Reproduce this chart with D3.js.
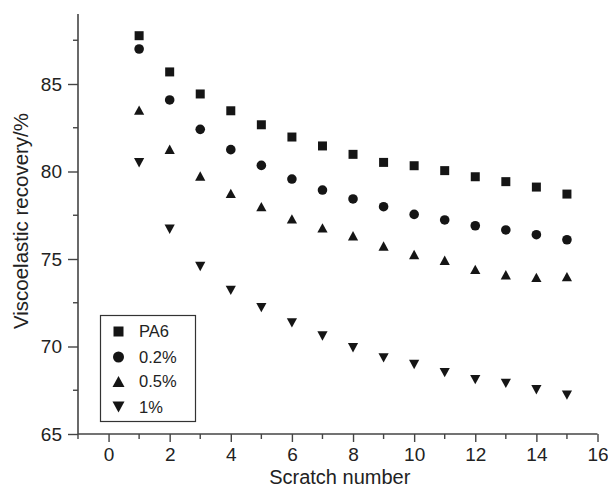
<!DOCTYPE html>
<html>
<head>
<meta charset="utf-8">
<script src="https://cdn.jsdelivr.net/npm/d3@7"></script>
<style>
  html, body { margin: 0; padding: 0; background: #fff; }
  svg { display: block; }
  text { font-family: "Liberation Sans", Arial, Helvetica, sans-serif; fill: #222; }
</style>
</head>
<body>
<svg id="chart" width="608" height="489"></svg>
<script>
// ---- data ----
const scratch = [1, 2, 3, 4, 5, 6, 7, 8, 9, 10, 11, 12, 13, 14, 15];
const seriesNames = ["PA6", "0.2%", "0.5%", "1%"];
const pa6   = [87.76, 85.69, 84.43, 83.47, 82.67, 81.97, 81.46, 80.98, 80.52, 80.33, 80.05, 79.70, 79.42, 79.11, 78.71];
const p02   = [87.00, 84.09, 82.41, 81.25, 80.35, 79.57, 78.94, 78.43, 77.99, 77.55, 77.23, 76.90, 76.66, 76.39, 76.10];
const p05   = [83.51, 81.27, 79.74, 78.75, 77.99, 77.29, 76.78, 76.33, 75.74, 75.26, 74.93, 74.41, 74.10, 73.95, 73.99];
const p1    = [80.50, 76.70, 74.57, 73.21, 72.22, 71.35, 70.60, 69.93, 69.35, 68.97, 68.51, 68.11, 67.89, 67.53, 67.22];
const seriesValues = [pa6, p02, p05, p1];
const symbolNames = ["square", "circle", "triangleUp", "triangleDown"];
const xMajorTicks = [0, 2, 4, 6, 8, 10, 12, 14, 16];
const xMinorTicks = [-1, 1, 3, 5, 7, 9, 11, 13, 15];
const yMajorTicks = [65, 70, 75, 80, 85];
const yMinorTicks = [67.5, 72.5, 77.5, 82.5, 87.5];
const xTitle = "Scratch number";
const yTitle = "Viscoelastic recovery/%";

// ---- layout ----
const svg = d3.select("#chart");
const x = d3.scaleLinear().domain([-1, 16]).range([78, 597.5]);
const y = d3.scaleLinear().domain([65, 89]).range([434, 14]);
const axisColor = "#444";
const markColor = "#151515";

// custom symbols (size = half-width)
const symbolTypes = {
  square: { draw(ctx, s) { ctx.rect(-s, -s, 2 * s, 2 * s); } },
  circle: { draw(ctx, s) { ctx.moveTo(s, 0); ctx.arc(0, 0, s, 0, 2 * Math.PI); } },
  triangleUp: { draw(ctx, s) { const h = s * 0.92; ctx.moveTo(0, -h); ctx.lineTo(s, h); ctx.lineTo(-s, h); ctx.closePath(); } },
  triangleDown: { draw(ctx, s) { const h = s * 0.92; ctx.moveTo(0, h); ctx.lineTo(s, -h); ctx.lineTo(-s, -h); ctx.closePath(); } }
};
const plotSizes = { square: 4.5, circle: 4.8, triangleUp: 5.1, triangleDown: 5.1 };
const legendSizes = { square: 5, circle: 5.5, triangleUp: 6, triangleDown: 6 };

// ---- axes ----
const gx = svg.append("g").attr("transform", `translate(0,${y(65)})`);
gx.call(d3.axisBottom(x).tickValues(xMajorTicks).tickSize(8).tickPadding(6).tickFormat(d3.format("d")));
gx.call(g => g.select(".domain").attr("d", `M${x(-1)},0H${x(16)}`));
gx.selectAll(".minor").data(xMinorTicks).join("line")
  .attr("class", "minor").attr("x1", d => x(d)).attr("x2", d => x(d)).attr("y1", 0).attr("y2", 5);

const gy = svg.append("g").attr("transform", `translate(${x(-1)},0)`);
gy.call(d3.axisLeft(y).tickValues(yMajorTicks).tickSize(10).tickPadding(6).tickFormat(d3.format("d")));
gy.call(g => g.select(".domain").attr("d", `M0,${y(65)}V${y(89)}`));
gy.selectAll(".minor").data(yMinorTicks).join("line")
  .attr("class", "minor").attr("y1", d => y(d)).attr("y2", d => y(d)).attr("x1", 0).attr("x2", -5);

[gx, gy].forEach(g => {
  g.selectAll(".domain").attr("stroke", axisColor).attr("stroke-width", 1.6);
  g.selectAll("line").attr("stroke", axisColor).attr("stroke-width", 1.4);
  g.selectAll("text").attr("font-size", 19).attr("fill", "#222")
    .attr("font-family", '"Liberation Sans", Arial, sans-serif');
});
gx.selectAll(".tick text").attr("dy", "0.7em");

// titles
svg.append("text").attr("x", (x(-1) + x(16)) / 2 + 2).attr("y", 484)
  .attr("text-anchor", "middle").attr("font-size", 20).text(xTitle);
svg.append("text").attr("transform", `translate(28,${(y(65) + y(89)) / 2 - 3}) rotate(-90)`)
  .attr("text-anchor", "middle").attr("font-size", 20.5).text(yTitle);

// ---- points ----
seriesValues.forEach((vals, i) => {
  const sym = symbolNames[i];
  svg.append("g").selectAll("path").data(vals).join("path")
    .attr("transform", (d, j) => `translate(${x(scratch[j])},${y(d)})`)
    .attr("d", d3.symbol().type(symbolTypes[sym]).size(plotSizes[sym]))
    .attr("fill", markColor);
});

// ---- legend ----
const lg = svg.append("g");
lg.append("rect").attr("x", 100.5).attr("y", 315.5).attr("width", 95).attr("height", 106)
  .attr("fill", "#fff").attr("stroke", "#333").attr("stroke-width", 1.2);
const rowY = [331.5, 357, 381.5, 407];
seriesNames.forEach((name, i) => {
  const sym = symbolNames[i];
  lg.append("path").attr("transform", `translate(118.5,${rowY[i]})`)
    .attr("d", d3.symbol().type(symbolTypes[sym]).size(legendSizes[sym]))
    .attr("fill", markColor);
  lg.append("text").attr("x", 139).attr("y", rowY[i]).attr("dy", "0.36em")
    .attr("font-size", 16.5).text(name);
});
</script>
</body>
</html>
